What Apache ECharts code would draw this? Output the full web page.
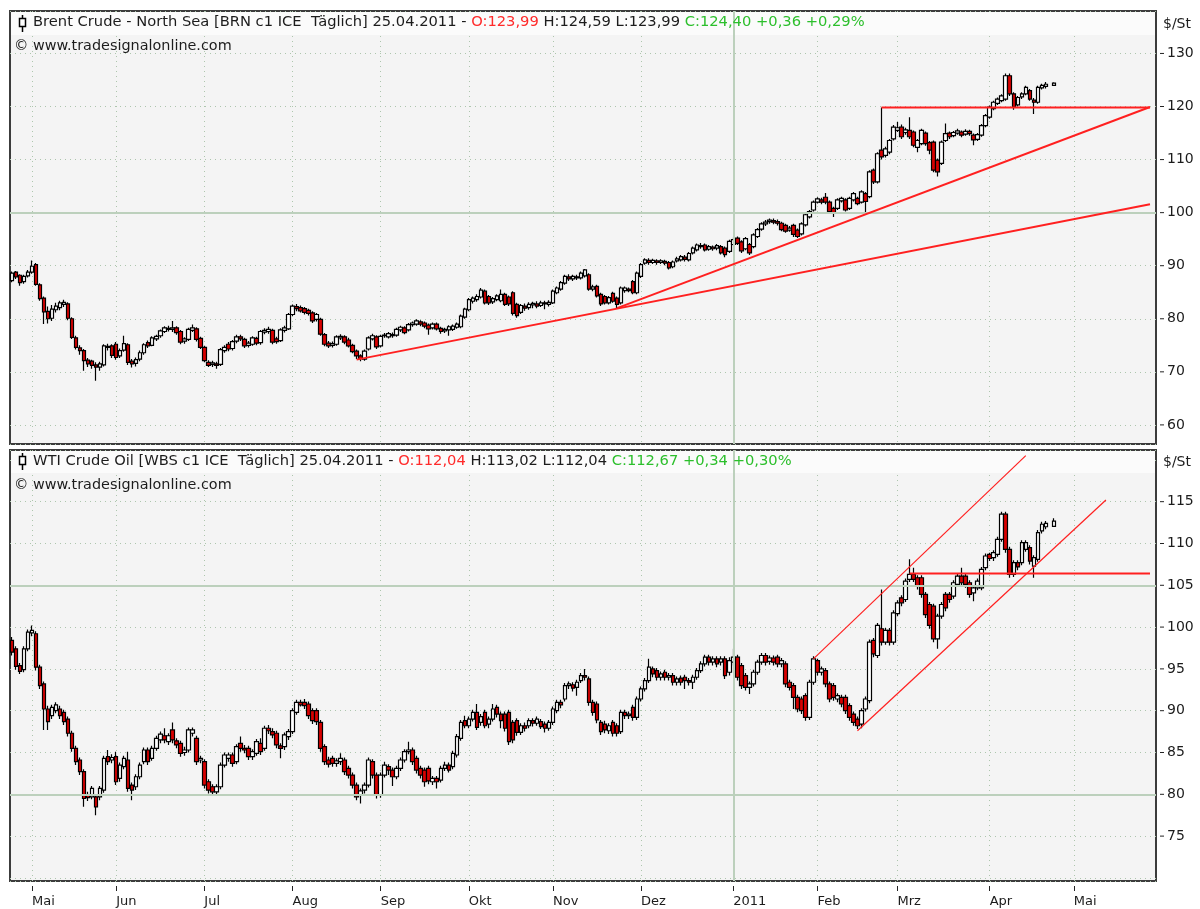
<!DOCTYPE html>
<html>
<head>
<meta charset="utf-8">
<title>Brent / WTI</title>
<script src="https://cdn.jsdelivr.net/npm/echarts@6/dist/echarts.min.js"></script>
<style>
  html, body { margin: 0; padding: 0; background: #fff; }
  #chart { width: 1200px; height: 909px; }
</style>
</head>
<body>
<div id="chart"></div>
<script>
// weekday slots: Apr 26 2010 .. end of May 2011
const firstDay = '2010-04-26';
const slotCount = 286;
const monthNames = ['Jan', 'Feb', 'Mrz', 'Apr', 'Mai', 'Jun', 'Jul', 'Aug', 'Sep', 'Okt', 'Nov', 'Dez'];

const brentTitle = ['Brent Crude - North Sea [BRN c1 ICE  Täglich] 25.04.2011 - ', 'O:123,99 ', 'H:124,59 L:123,99 ', 'C:124,40 +0,36 +0,29%'];
const wtiTitle = ['WTI Crude Oil [WBS c1 ICE  Täglich] 25.04.2011 - ', 'O:112,04 ', 'H:113,02 L:112,04 ', 'C:112,67 +0,34 +0,30%'];
const copyright = '© www.tradesignalonline.com';
const unitLabel = '$/St';

// [open, close, low, high] per weekday, null = no trading
const brentBars = [
  [87.2,88.6,86.9,88.9],[88.8,87.9,87.5,89.0],[88.2,86.8,86.2,88.4],[87.0,88.0,86.6,88.3],[88.1,88.8,87.8,89.2],
  [88.8,89.9,88.5,91.0],[90.2,86.5,86.2,90.5],[86.4,83.8,83.4,86.7],[83.9,81.3,79.0,84.2],[81.4,80.0,79.1,82.3],
  [80.1,81.8,79.6,82.6],[81.7,82.4,81.2,83.0],[82.1,83.0,81.6,83.4],[82.7,83.1,82.2,83.6],[82.8,80.1,79.7,83.1],
  [80.0,76.5,76.2,80.3],[76.4,74.6,74.2,76.8],[74.5,74.0,73.2,75.0],[74.0,72.1,70.2,74.3],[72.2,71.5,70.9,72.6],
  [72.0,71.2,70.6,72.3],[71.3,70.9,68.3,71.8],[70.9,71.5,70.2,71.9],[71.3,74.9,71.0,75.2],[74.8,74.6,74.0,75.3],
  [74.9,73.1,72.6,75.2],[75.2,72.7,72.3,75.6],[73.0,74.0,72.6,74.4],[74.1,75.3,73.8,76.8],[75.1,71.8,71.3,75.4],
  [72.0,71.5,70.8,72.4],[71.6,72.3,71.0,72.7],[72.4,73.6,72.0,74.0],[73.6,75.1,73.2,75.4],[75.5,74.9,74.5,75.9],
  [75.0,76.4,74.8,76.7],[76.2,76.7,75.8,77.0],[76.8,77.7,76.4,78.0],[77.6,78.3,77.3,78.6],[78.2,78.0,77.6,78.7],
  [78.0,78.3,77.5,79.6],[78.3,77.4,77.0,78.6],[77.6,75.6,75.2,77.9],[75.8,76.2,75.3,76.5],[76.1,78.0,75.8,78.3],
  [77.8,78.3,77.5,78.9],[78.1,76.1,75.7,78.4],[76.3,74.6,74.3,76.6],[74.6,72.1,71.8,74.9],[71.8,71.2,70.9,72.2],
  [71.4,71.7,70.9,72.1],[71.5,71.2,70.6,71.9],[71.4,74.2,71.1,74.5],[74.0,74.6,73.6,75.0],[75.2,74.3,73.9,75.6],
  [74.4,75.7,74.0,76.0],[75.8,76.6,75.4,77.0],[76.6,76.2,75.8,77.0],[76.1,74.9,74.5,76.4],[75.0,75.4,74.6,75.8],
  [75.2,76.4,74.9,76.7],[76.3,75.4,75.0,76.6],[75.5,77.6,75.1,77.9],[77.5,77.8,77.1,78.2],[77.6,78.0,77.2,78.5],
  [77.8,75.6,75.2,78.1],[76.2,75.7,75.3,76.6],[75.9,77.9,75.6,78.2],[77.8,78.3,77.4,78.7],[78.1,80.8,77.9,81.1],
  [80.8,82.4,80.5,82.7],[82.3,81.9,81.4,82.8],[82.1,81.5,81.2,82.5],[81.9,81.2,80.8,82.2],[81.6,81.0,80.6,81.9],
  [81.1,79.6,79.2,81.4],[79.9,80.8,79.5,81.1],[79.9,77.1,76.8,80.2],[77.0,75.2,74.8,77.3],[75.4,74.9,74.5,75.8],
  [75.0,75.3,74.6,75.7],[75.2,76.6,74.9,76.9],[76.4,76.7,76.0,77.1],[76.6,75.6,75.2,76.9],[76.0,74.9,74.6,76.4],
  [75.0,73.8,73.5,75.3],[73.9,73.0,72.4,74.2],[73.0,72.5,72.0,73.3],[72.4,73.9,72.1,74.2],[74.3,76.4,74.0,76.7],
  [76.2,76.8,75.9,77.2],[76.6,74.7,74.3,76.9],[74.9,76.7,74.6,77.0],[76.8,76.9,76.4,77.3],[76.6,77.2,76.3,77.5],
  [77.0,76.8,76.4,77.4],[76.9,78.0,76.6,78.3],[77.9,78.4,77.5,78.7],[78.3,77.4,77.1,78.6],[77.9,78.9,77.6,79.2],
  [78.9,79.2,78.5,79.5],[79.0,79.6,78.7,79.9],[79.4,79.0,78.6,79.7],[79.2,78.6,78.2,79.5],[78.8,78.1,77.0,79.1],
  [78.3,79.0,78.0,79.3],[79.0,78.1,77.8,79.3],[78.2,77.6,77.2,78.5],[77.7,78.0,77.3,78.3],[77.9,78.5,76.8,78.8],
  [78.0,78.6,77.7,78.9],[78.4,79.0,78.1,79.3],[78.5,80.5,78.2,80.8],[80.3,81.8,80.0,82.1],[81.7,83.6,81.4,83.9],
  [83.3,83.9,82.9,84.2],[83.6,84.2,83.2,84.6],[84.1,85.4,83.8,85.8],[85.2,83.0,82.7,85.5],[84.2,83.0,82.6,84.5],
  [83.2,83.8,82.8,84.1],[83.6,84.3,83.3,84.6],[83.4,84.6,83.1,85.5],[84.6,82.7,82.4,84.9],[84.1,82.8,82.4,84.4],
  [84.9,81.0,80.6,85.2],[82.7,80.6,80.2,83.0],[81.2,82.5,80.9,82.8],[82.4,82.0,81.5,82.9],[82.1,82.7,81.7,83.1],
  [82.6,82.9,82.0,83.2],[82.8,82.4,82.0,83.3],[82.5,83.0,82.2,83.4],[83.0,82.8,81.8,83.4],[82.7,83.1,82.3,83.5],
  [83.0,85.2,82.8,85.5],[84.9,85.8,84.6,86.1],[85.6,86.8,85.3,87.1],[86.7,88.0,86.4,88.3],[87.9,87.5,87.1,88.4],
  [87.5,88.0,87.1,88.3],[87.9,87.7,87.3,88.3],[87.7,88.6,87.4,88.9],[88.1,89.2,87.8,89.4],[88.3,85.6,85.3,88.6],
  [85.6,86.0,85.2,86.4],[86.1,84.3,84.0,86.4],[84.6,82.8,82.4,84.9],[84.2,83.0,82.7,84.5],[83.0,84.0,82.7,84.3],
  [84.8,83.3,83.0,85.1],[83.9,82.7,82.0,84.2],[83.0,85.8,82.7,86.1],[85.3,85.8,84.9,86.1],[85.6,85.3,85.0,85.9],
  [87.0,84.9,84.6,87.3],[84.9,88.6,84.6,88.9],[88.0,90.2,87.7,90.5],[90.5,91.1,90.2,91.4],[91.0,90.6,90.2,91.4],
  [90.6,91.0,90.3,91.3],[90.9,90.6,90.2,91.2],[90.6,90.9,90.3,91.2],[90.8,90.5,90.1,91.1],[90.6,89.6,89.3,90.9],
  [89.8,90.7,89.5,91.0],[90.9,91.3,90.6,91.7],[91.1,91.7,90.8,92.0],[91.6,91.2,90.8,92.0],[91.1,92.3,90.8,92.6],
  [92.4,93.3,92.1,93.6],[93.0,93.9,92.7,94.2],[93.8,93.6,93.2,94.3],[93.9,93.0,92.7,94.2],[93.1,93.6,92.8,93.9],
  [93.5,93.2,92.8,93.8],[93.3,93.8,92.9,94.1],[93.6,92.4,92.1,93.9],[93.3,92.1,91.6,93.6],[92.7,94.6,92.4,94.9],
  [94.0,94.9,93.7,95.3],[95.2,94.2,93.9,95.5],[94.5,92.8,92.4,94.8],[93.2,95.1,92.9,95.4],[94.0,92.4,92.0,94.3],
  [93.6,95.8,93.3,96.1],[95.5,96.8,95.2,97.1],[96.9,97.9,96.6,98.2],[97.9,98.2,97.5,98.6],[98.3,98.6,97.9,98.9],
  [98.5,98.2,97.8,98.9],[98.3,98.0,97.6,98.7],[98.0,96.8,96.5,98.3],[97.6,96.5,96.2,97.9],[96.7,97.1,96.4,97.5],
  [97.6,95.9,95.4,97.9],[96.7,95.5,95.2,97.0],[96.0,97.9,95.7,98.2],[97.7,99.6,97.4,99.9],[99.2,100.2,98.9,100.5],
  [100.5,102.0,100.2,102.3],[102.0,102.6,101.7,102.9],[102.4,102.0,101.6,102.8],[102.9,102.0,101.6,103.7],[102.0,100.2,99.9,102.3],
  [100.8,99.9,99.2,101.1],[100.8,102.4,100.5,102.7],[102.2,102.7,101.9,103.0],[102.4,100.5,100.2,102.7],[100.8,102.7,100.5,103.0],
  [102.4,103.6,102.1,103.9],[102.7,101.7,101.4,103.0],[102.0,103.9,101.7,104.2],[103.6,102.1,100.0,103.9],[103.0,107.7,102.7,108.0],
  [108.0,105.8,105.4,108.3],[105.8,111.1,105.5,111.4],[111.8,110.5,110.0,119.8],[110.8,112.0,110.4,112.4],[111.4,113.6,111.0,113.9],
  [113.9,116.1,113.6,116.5],[115.5,116.0,115.2,117.1],[116.1,114.3,113.9,116.6],[115.1,115.6,114.7,116.0],[115.5,114.3,113.9,118.0],
  [115.2,112.7,112.3,115.5],[112.3,113.6,111.4,113.9],[113.0,115.5,112.7,115.8],[115.0,113.0,112.6,115.3],[113.2,111.8,111.0,113.5],
  [113.3,108.0,107.6,113.6],[109.9,107.7,106.8,110.2],[109.3,113.3,109.0,113.6],[113.6,114.9,113.3,116.8],[115.0,114.3,113.9,115.3],
  [114.5,115.1,114.2,115.4],[115.0,115.4,114.7,115.8],[115.2,114.6,114.2,115.5],[114.8,115.3,114.5,115.7],[115.3,114.9,114.5,115.6],
  [114.6,113.7,112.7,114.9],[113.8,114.7,113.5,115.0],[114.6,116.4,114.3,116.7],[116.4,118.3,116.1,118.6],[118.0,119.9,117.7,120.2],
  [119.6,120.8,119.3,121.1],[120.6,121.4,120.3,121.7],[121.1,122.0,120.8,122.3],[121.4,125.8,121.1,126.2],[125.8,122.4,122.0,126.2],
  [122.4,119.9,119.4,122.7],[120.3,121.7,120.0,122.0],[121.8,122.4,121.4,122.7],[122.4,123.6,122.1,123.9],[123.0,121.4,121.1,123.3],
  [121.2,120.8,118.6,121.6],[120.8,123.6,120.5,123.9],[123.5,124.0,123.2,124.3],[123.8,124.2,123.4,124.6],null,
  [123.99,124.40,123.99,124.59]
];

const wtiBars = [
  [98.4,97.0,96.6,98.8],[97.4,95.3,94.9,97.7],[95.4,94.7,94.4,95.7],[94.9,97.4,94.6,97.7],[97.4,99.4,97.1,99.7],
  [99.3,99.6,98.9,100.2],[99.2,95.2,94.8,99.5],[95.2,93.0,92.6,95.5],[93.2,90.2,87.7,93.5],[90.2,88.7,87.7,90.6],
  [89.4,90.4,89.0,90.7],[90.0,90.7,89.7,91.0],[90.2,89.4,89.0,90.6],[89.8,88.7,88.3,90.1],[89.0,87.3,86.9,89.3],
  [87.3,85.5,85.1,87.6],[85.5,83.9,83.5,85.8],[84.1,82.7,82.3,84.4],[82.7,79.5,78.5,83.0],[79.9,79.6,79.2,80.3],
  [79.7,80.7,79.4,81.0],[79.7,78.5,77.5,80.0],[79.7,80.7,79.3,81.0],[80.5,84.3,80.2,84.6],[84.5,83.9,83.5,85.3],
  [84.1,84.4,83.7,84.8],[84.5,81.5,81.1,85.1],[81.9,83.5,81.5,83.8],[83.3,84.3,83.0,84.6],[84.1,80.7,80.3,85.1],
  [81.1,80.5,79.3,81.4],[80.9,82.1,80.5,82.4],[82.1,83.5,81.8,83.8],[83.9,85.3,83.6,85.6],[85.3,83.9,83.5,85.6],
  [84.3,85.5,84.0,85.8],[85.5,86.7,85.2,87.0],[86.5,87.2,86.1,87.5],[87.0,86.5,86.1,87.9],[86.3,87.0,85.9,87.3],
  [87.7,86.5,86.1,88.6],[86.4,85.9,85.5,86.7],[86.1,84.9,84.5,86.4],[85.0,85.3,84.6,85.7],[85.3,87.7,85.0,88.0],
  [87.3,87.7,86.9,88.0],[86.7,83.9,83.5,87.0],[84.1,84.3,83.7,84.6],[83.9,81.1,80.7,84.2],[81.5,80.5,80.1,81.8],
  [80.9,80.3,79.9,81.2],[80.3,80.9,79.8,81.2],[80.9,83.5,80.6,83.8],[83.5,84.7,83.2,85.0],[84.3,84.7,83.9,85.0],
  [84.7,83.7,83.3,85.0],[83.9,85.7,83.6,86.0],[86.1,85.5,85.1,86.9],[85.5,85.3,84.9,85.9],[85.5,84.5,84.1,85.8],
  [84.5,85.1,84.1,85.4],[84.9,86.3,84.6,86.6],[86.1,85.1,84.7,86.7],[85.5,87.9,85.2,88.2],[87.9,87.6,87.2,88.3],
  [87.5,87.1,86.7,87.9],[87.3,85.9,85.5,87.6],[85.8,85.5,84.3,86.1],[85.7,87.1,85.3,87.4],[86.9,87.5,86.5,87.8],
  [87.5,90.0,87.2,90.3],[89.8,91.0,89.5,91.3],[91.0,90.7,90.5,91.3],[91.0,90.6,90.2,91.4],[90.8,89.4,89.0,91.1],
  [90.0,88.8,88.4,90.3],[90.0,88.7,88.3,90.3],[88.6,85.5,85.1,88.9],[85.7,83.9,83.5,86.0],[84.1,83.6,83.2,84.5],
  [84.3,83.7,83.3,84.6],[83.7,84.0,83.3,84.3],[83.9,84.3,83.5,84.9],[84.1,82.7,82.3,84.4],[83.1,82.3,81.9,83.4],
  [82.3,81.1,80.7,82.6],[81.1,79.7,79.3,81.4],[79.9,80.4,78.9,80.7],[80.5,81.1,80.1,81.4],[81.1,84.1,80.8,84.4],
  [83.9,82.3,81.9,84.2],[82.3,79.9,79.5,82.6],[79.9,82.3,79.6,82.6],[82.3,83.5,82.0,83.9],[83.3,82.9,82.3,83.6],
  [82.9,82.1,81.0,83.2],[82.1,83.1,81.8,83.4],[83.1,84.1,82.8,84.4],[84.1,85.1,83.8,85.4],[85.1,85.3,84.8,86.3],
  [85.3,83.9,83.5,85.6],[84.3,82.9,82.5,84.6],[83.1,82.3,81.9,83.4],[82.9,81.5,80.9,83.2],[83.1,81.6,81.2,83.4],
  [81.5,81.9,81.1,82.2],[81.9,81.5,80.7,82.2],[81.7,83.1,81.4,83.4],[83.1,83.5,82.8,83.9],[83.5,82.9,82.6,83.8],
  [83.3,84.9,83.0,85.2],[84.7,86.9,84.4,87.2],[86.7,88.6,86.4,88.9],[88.8,88.2,87.9,89.4],[88.2,89.0,87.9,89.3],
  [89.0,89.8,88.7,90.1],[89.8,88.0,87.7,90.8],[88.6,89.3,88.2,89.6],[89.8,88.2,87.9,90.1],[88.4,89.0,87.9,89.3],
  [89.0,90.2,88.7,90.8],[90.4,89.6,89.2,90.7],[89.6,88.8,87.9,89.9],[89.6,87.9,87.5,89.9],[89.8,86.3,85.9,90.1],
  [88.6,86.5,86.1,88.9],[88.8,87.4,87.0,89.1],[87.4,88.2,87.1,88.5],[88.2,87.9,87.5,88.6],[88.2,88.8,87.9,89.1],
  [88.8,88.5,88.1,89.1],[88.5,89.0,88.2,89.3],[88.7,88.1,87.8,89.0],[88.4,87.9,87.4,88.7],[87.9,88.6,87.6,88.9],
  [88.6,90.2,88.3,90.5],[90.0,91.0,89.7,91.3],[91.0,90.7,90.3,91.3],[91.4,93.0,91.1,93.3],[93.0,93.2,92.6,93.5],
  [93.1,92.7,92.3,93.4],[92.8,93.4,91.8,93.7],[93.6,94.2,93.3,94.5],[94.2,94.0,93.6,95.0],[93.8,91.0,90.6,94.1],
  [91.0,89.8,89.4,91.3],[90.8,88.9,88.5,91.1],[88.6,87.5,87.1,88.9],[88.4,87.7,87.3,88.8],[87.6,88.2,87.2,88.5],
  [88.6,87.3,86.9,88.9],[88.2,87.3,86.9,88.5],[87.5,89.8,87.2,90.1],[89.8,89.4,89.0,90.1],[89.4,89.6,89.0,89.9],
  [90.4,89.2,88.8,90.7],[89.2,91.4,88.9,91.7],[91.4,92.6,91.1,92.9],[92.6,93.6,92.3,93.9],[93.6,95.2,93.3,96.2],
  [95.0,94.4,94.0,95.3],[94.8,94.0,93.6,95.1],[94.0,94.4,93.6,94.7],[94.6,94.0,93.6,94.9],[94.0,94.2,93.6,94.5],
  [94.2,93.4,93.0,94.5],[93.4,93.8,93.0,94.1],[93.9,93.4,93.0,94.2],[94.0,93.6,92.6,94.3],[93.6,93.4,93.0,93.9],
  [93.4,94.0,92.6,94.3],[94.0,94.8,93.7,95.1],[94.8,95.6,94.5,95.9],[95.6,96.4,95.3,96.7],[96.4,95.8,95.4,96.7],
  [95.8,96.2,95.4,96.5],[96.2,95.6,95.2,96.5],[95.8,96.2,95.4,96.5],[96.2,94.2,93.8,96.5],[94.6,96.0,94.2,96.4],
  [95.8,96.4,95.4,97.4],[96.4,94.0,93.6,96.7],[95.4,93.0,92.6,95.7],[94.2,92.8,92.4,94.5],[92.8,93.2,92.0,93.5],
  [93.2,94.6,92.9,94.9],[94.6,95.8,94.3,96.1],[95.8,96.6,95.5,96.9],[96.6,95.8,95.4,96.9],[95.9,96.3,95.5,96.6],
  [96.3,95.8,95.4,96.6],[96.4,95.6,95.2,96.7],[95.6,96.0,95.2,96.3],[95.6,93.2,92.8,95.9],[93.4,92.8,92.4,93.7],
  [93.0,91.6,90.2,93.3],[91.6,90.2,89.8,91.9],[91.4,90.0,89.6,91.7],[91.8,89.2,88.8,92.1],[89.2,93.4,88.9,93.7],
  [93.4,96.2,93.1,96.5],[96.0,94.6,94.2,96.2],[94.6,95.0,94.2,95.3],[94.8,93.2,92.8,95.1],[93.2,91.4,91.0,93.5],
  [93.0,91.6,91.2,93.3],[91.4,91.8,91.0,92.1],[91.6,90.8,90.4,91.9],[91.6,90.0,89.6,91.9],[90.6,89.2,88.8,90.9],
  [89.6,88.6,88.2,89.9],[89.0,88.2,87.8,89.3],[88.4,90.0,87.9,90.3],[90.2,91.4,89.9,91.7],[91.2,98.2,90.9,98.5],
  [98.4,96.8,96.4,98.7],[96.6,100.2,96.3,100.5],[99.8,98.2,97.8,104.5],[98.2,99.6,97.9,99.9],[99.6,98.2,97.8,99.9],
  [98.2,101.7,97.9,102.0],[101.6,102.9,101.3,103.2],[103.5,102.9,102.5,103.8],[103.3,105.5,103.0,105.8],[105.7,106.3,105.4,108.1],
  [106.3,105.7,105.4,107.1],[105.9,104.9,104.5,106.2],[105.9,103.9,103.5,106.2],[103.9,101.5,101.1,104.2],[102.7,100.2,99.8,103.0],
  [102.5,98.6,98.2,102.8],[98.6,101.3,97.4,101.6],[101.3,102.7,101.0,103.0],[103.9,102.3,101.9,104.2],[103.9,103.3,102.9,104.2],
  [103.7,105.3,103.4,105.6],[105.1,106.1,104.8,106.4],[106.1,105.3,104.9,107.1],[106.1,105.1,104.7,106.4],[105.3,103.9,103.5,105.6],
  [104.1,104.7,103.1,105.0],[104.7,105.5,104.4,105.8],[104.7,106.9,104.4,107.2],[107.1,108.5,106.8,108.8],[108.7,108.2,107.9,108.9],
  [108.3,108.9,107.9,109.2],[108.7,110.5,108.4,110.8],[110.5,113.5,110.2,113.8],[113.5,109.3,108.9,113.8],[109.3,106.3,105.9,109.6],
  [106.3,107.7,106.0,108.0],[107.7,107.2,106.8,108.0],[107.7,110.1,107.4,110.4],[109.3,110.1,109.0,110.4],[109.5,107.9,107.5,109.8],
  [107.3,108.3,105.9,108.6],[108.1,111.3,107.8,111.6],[111.5,112.3,111.2,112.6],[112.0,112.4,111.7,112.7],null,
  [112.04,112.67,112.04,113.02]
];

// drawn trend lines: [[slot, price], [slot, price]]
const brentTrends = [
  [[86, 72.3], [284, 101.6]],
  [[151, 82.0], [284, 119.9]],
  [[217, 119.8], [284, 119.8]]
];
const wtiTrends = [
  [[200, 96.2], [253, 120.5]],
  [[211, 87.6], [273, 115.2]],
  [[224, 106.4], [284, 106.4]]
];
const brentLevels = [100];
const wtiLevels = [105, 80];
const yearLine = '2011-01-03';

const days = [];
const cursor = new Date(firstDay + 'T00:00:00Z');
while (days.length < slotCount) {
  const wd = cursor.getUTCDay();
  if (wd !== 0 && wd !== 6) days.push(cursor.toISOString().slice(0, 10));
  cursor.setUTCDate(cursor.getUTCDate() + 1);
}
const isMonthStart = (i) => i > 0 && days[i].slice(5, 7) !== days[i - 1].slice(5, 7);
const monthLabel = (v) => {
  const m = +v.slice(5, 7);
  return m === 1 ? v.slice(0, 4) : monthNames[m - 1];
};

const FONT = "'DejaVu Sans', sans-serif";
const INK = '#1c1c1c';
const dotted = { color: '#adc6ad', type: [1, 4], width: 1 };
const chart = echarts.init(document.getElementById('chart'));

function xAxis(gi, showLabels) {
  return {
    type: 'category', gridIndex: gi, data: days, boundaryGap: true,
    offset: showLabels ? 5 : 0,
    axisLine: { show: false },
    axisTick: { show: showLabels, alignWithLabel: true, length: 5, interval: isMonthStart, lineStyle: { color: '#222' } },
    axisLabel: {
      show: showLabels, interval: isMonthStart, formatter: monthLabel, align: 'left',
      margin: 9, color: INK, fontSize: 13, fontFamily: FONT
    },
    splitLine: { show: true, alignWithLabel: true, interval: isMonthStart, lineStyle: dotted }
  };
}
// tick mark is drawn as part of the label so unlabeled grid values get none
function yAxis(gi, min, max, split, lo, hi) {
  return {
    type: 'value', gridIndex: gi, position: 'right', min, max, splitNumber: split, offset: 4,
    axisLine: { show: false },
    axisTick: { show: false },
    axisLabel: {
      margin: 0, showMinLabel: false, showMaxLabel: false,
      formatter: (v) => (v >= lo - 0.01 && v <= hi + 0.01 && Math.abs(v - Math.round(v)) < 0.01) ? '{t| }{v|' + Math.round(v) + '}' : '',
      rich: {
        t: { width: 4, height: 1, backgroundColor: '#222', verticalAlign: 'middle', fontSize: 1 },
        v: { color: INK, fontSize: 14, fontFamily: FONT, padding: [0, 0, 0, 3] }
      }
    },
    splitLine: { show: true, lineStyle: dotted }
  };
}
function candles(bars, gi, levels) {
  return {
    type: 'candlestick', xAxisIndex: gi, yAxisIndex: gi,
    data: bars.map((b) => b || '-'),
    barWidth: 4,
    itemStyle: { color: '#ffffff', color0: '#d80000', borderColor: '#000', borderColor0: '#000', borderWidth: 1.2 },
    markLine: {
      silent: true, symbol: ['none', 'none'], label: { show: false }, animation: false,
      lineStyle: { color: '#bcd0bc', width: 2, type: 'solid' },
      data: levels.map((v) => ({ yAxis: v })).concat([{ xAxis: yearLine }])
    }
  };
}
function trend(seg, gi, width) {
  return {
    type: 'line', xAxisIndex: gi, yAxisIndex: gi, data: seg, symbol: 'none', silent: true, z: 5,
    lineStyle: { color: '#ff2020', width }
  };
}
const titleFont = { fontSize: 14.7, fontFamily: FONT, fontWeight: 'normal' };
const noteFont = { fontSize: 14.4, fontFamily: FONT, fontWeight: 'normal' };
function header(parts, top) {
  return {
    left: 33, top, padding: 0,
    text: '{n|' + parts[0] + '}{r|' + parts[1] + '}{n|' + parts[2] + '}{g|' + parts[3] + '}',
    textStyle: {
      fontWeight: 'normal',
      rich: {
        n: Object.assign({ color: INK }, titleFont),
        r: Object.assign({ color: '#ff2a2a' }, titleFont),
        g: Object.assign({ color: '#2cbf2c' }, titleFont)
      }
    }
  };
}
function note(top) {
  return { left: 14, top, padding: 0, text: copyright, textStyle: Object.assign({ color: INK }, noteFont) };
}
function icon(cy) {
  return [
    { type: 'line', z: 10, shape: { x1: 22.5, y1: cy - 9, x2: 22.5, y2: cy + 8 }, style: { stroke: '#000', lineWidth: 1.5 } },
    { type: 'rect', z: 11, shape: { x: 19.5, y: cy - 5.5, width: 6, height: 8 }, style: { fill: '#fff', stroke: '#000', lineWidth: 1.5 } }
  ];
}

chart.setOption({
  animation: false,
  backgroundColor: '#ffffff',
  grid: [
    { left: 10, top: 11, width: 1146, height: 433, show: true, backgroundColor: '#f4f4f4', borderColor: '#3c3c3c', borderWidth: 2 },
    { left: 10, top: 450, width: 1146, height: 431, show: true, backgroundColor: '#f4f4f4', borderColor: '#3c3c3c', borderWidth: 2 }
  ],
  title: [header(brentTitle, 15), note(39), header(wtiTitle, 454), note(478)],
  graphic: [
    { type: 'rect', z: 1, shape: { x: 11, y: 12, width: 1144, height: 23 }, style: { fill: '#fbfbfb' } },
    { type: 'rect', z: 1, shape: { x: 11, y: 451, width: 1144, height: 22 }, style: { fill: '#fbfbfb' } },
    ...icon(24), ...icon(462),
    { type: 'text', z: 10, x: 1163, y: 17, style: { text: unitLabel, fill: INK, font: '14px ' + FONT } },
    { type: 'text', z: 10, x: 1163, y: 455, style: { text: unitLabel, fill: INK, font: '14px ' + FONT } }
  ],
  xAxis: [xAxis(0, false), xAxis(1, true)],
  yAxis: [yAxis(0, 56.4, 138.0, 8, 60, 130), yAxis(1, 69.63, 121.18, 10, 75, 115)],
  series: [
    candles(brentBars, 0, brentLevels),
    candles(wtiBars, 1, wtiLevels),
    trend(brentTrends[0], 0, 2), trend(brentTrends[1], 0, 2), trend(brentTrends[2], 0, 2),
    trend(wtiTrends[0], 1, 1.2), trend(wtiTrends[1], 1, 1.2), trend(wtiTrends[2], 1, 2)
  ]
});
</script>
</body>
</html>
